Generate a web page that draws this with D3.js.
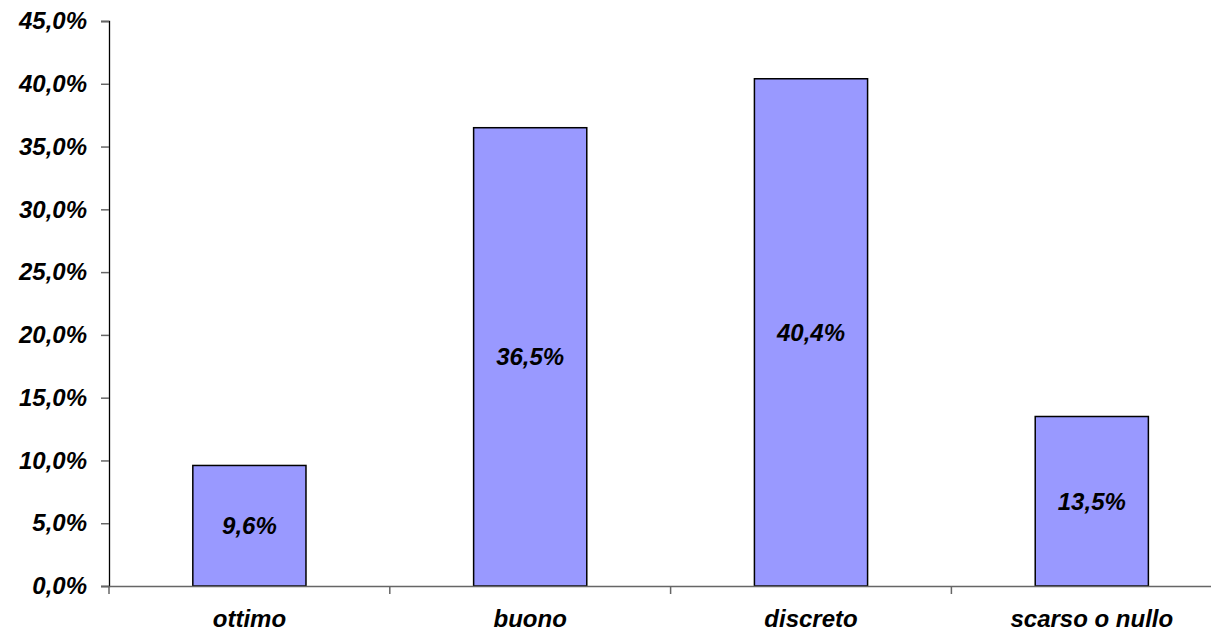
<!DOCTYPE html>
<html><head><meta charset="utf-8">
<script src="https://cdn.jsdelivr.net/npm/d3@7"></script>
<style>body{margin:0;background:#fff}svg{display:block}</style>
</head><body>
<script>
const categories = ["ottimo", "buono", "discreto", "scarso o nullo"];
const values = [9.6, 36.5, 40.4, 13.5];
const yTicks = [0, 5, 10, 15, 20, 25, 30, 35, 40, 45];

const W = 1211, H = 636;
const x0 = 109, x1 = 109 + 4 * 280.8, yTop = 21, yBot = 586;
const font = "'Liberation Sans', Arial, sans-serif";
const fs = 24;
const fmt = v => v.toFixed(1).replace(".", ",") + "%";

const svg = d3.select("body").append("svg").attr("width", W).attr("height", H);
const x = d3.scaleBand().domain(categories).range([x0, x1]).paddingInner(0).paddingOuter(0);
const y = d3.scaleLinear().domain([0, 45]).range([yBot, yTop]);
const bw = x.bandwidth() * 0.403;

// bars
svg.selectAll("rect.bar").data(values).join("rect")
  .attr("x", (d, i) => x(categories[i]) + x.bandwidth() / 2 - bw / 2)
  .attr("y", d => y(d))
  .attr("width", bw)
  .attr("height", d => y(0) - y(d))
  .attr("fill", "#9999FF").attr("stroke", "#000").attr("stroke-width", 1.5);

// y axis
const ya = svg.append("g").attr("transform", `translate(${x0},0)`)
  .call(d3.axisLeft(y).tickValues(yTicks).tickFormat(fmt).tickSize(8).tickPadding(14));
ya.select(".domain").attr("stroke", "#000").attr("stroke-width", 1.3);
ya.selectAll(".tick line").attr("stroke", "#666").attr("stroke-width", 1.5);
ya.selectAll("text").attr("font-family", font).attr("font-size", fs)
  .attr("font-weight", "bold").attr("font-style", "italic").attr("fill", "#000");

// x axis
const xa = svg.append("g").attr("transform", `translate(0,${yBot})`)
  .call(d3.axisBottom(x).tickSize(0).tickPadding(24));
xa.select(".domain").attr("stroke", "#666").attr("stroke-width", 1.5);
xa.selectAll("text").attr("font-family", font).attr("font-size", fs)
  .attr("font-weight", "bold").attr("font-style", "italic").attr("fill", "#000");
// tick marks at band boundaries
svg.selectAll("line.xt").data(categories).join("line")
  .attr("x1", d => x(d)).attr("x2", d => x(d))
  .attr("y1", yBot).attr("y2", yBot + 8)
  .attr("stroke", "#666").attr("stroke-width", 1.5);

// value labels
svg.selectAll("text.val").data(values).join("text")
  .attr("x", (d, i) => x(categories[i]) + x.bandwidth() / 2)
  .attr("y", d => (y(d) + y(0)) / 2)
  .attr("dy", "0.35em").attr("text-anchor", "middle")
  .attr("font-family", font).attr("font-size", fs)
  .attr("font-weight", "bold").attr("font-style", "italic").attr("fill", "#000")
  .text(d => fmt(d));
</script>
</body></html>
